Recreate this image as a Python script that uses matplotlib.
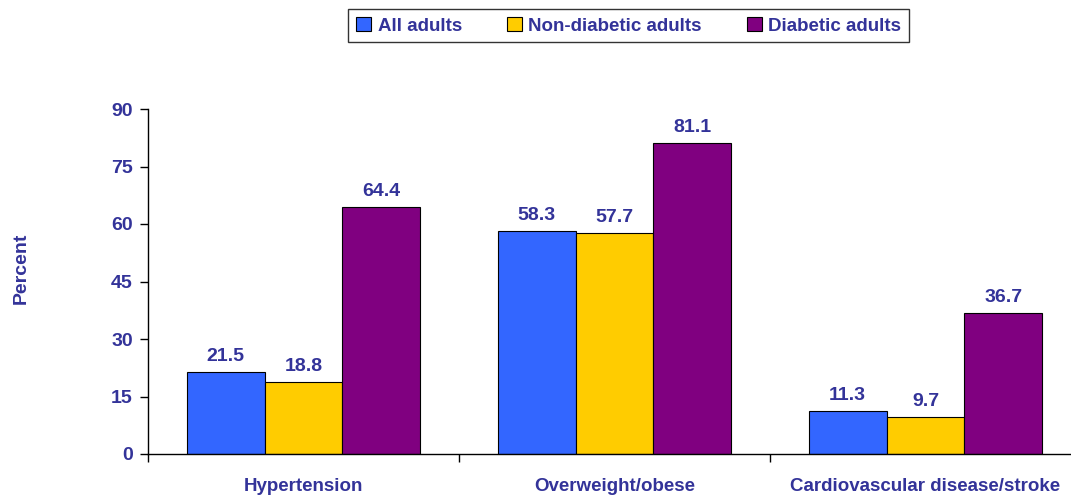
import matplotlib
matplotlib.use("Agg")
import matplotlib.pyplot as plt
import numpy as np
from matplotlib.patches import Patch

categories = ["Hypertension", "Overweight/obese", "Cardiovascular disease/stroke"]
series = ["All adults", "Non-diabetic adults", "Diabetic adults"]
all_adults = [21.5, 58.3, 11.3]
non_diabetic = [18.8, 57.7, 9.7]
diabetic = [64.4, 81.1, 36.7]
colors = ["#3366FF", "#FFCC00", "#800080"]
yticks = [0, 15, 30, 45, 60, 75, 90]

navy = "#333399"
plt.rcParams["font.family"] = ["Liberation Sans", "DejaVu Sans"]
plt.rcParams["font.weight"] = "bold"

fig = plt.figure(figsize=(10.71, 5), dpi=100)
ax = fig.add_axes([0.1382, 0.092, 0.8711, 0.69])

x = np.arange(len(categories))
w = 0.25
for i, (vals, c) in enumerate(zip([all_adults, non_diabetic, diabetic], colors)):
    bars = ax.bar(x + (i - 1) * w, vals, w, color=c, edgecolor="black", linewidth=0.8)
    for b, v in zip(bars, vals):
        ax.annotate(f"{v:.1f}", (b.get_x() + b.get_width() / 2, v),
                    xytext=(0, 5), textcoords="offset points",
                    ha="center", va="bottom", color=navy,
                    fontsize=14, fontweight="bold")

ax.set_xlim(-0.5, 2.5)
ax.set_ylim(0, 90)
ax.set_yticks(yticks)
ax.set_yticklabels([str(t) for t in yticks], color=navy, fontsize=14, fontweight="bold")
ax.tick_params(axis="y", direction="out", length=6, width=1, pad=5)

# category boundaries get the ticks, labels sit at the centres
ax.set_xticks([-0.5, 0.5, 1.5, 2.5])
ax.set_xticklabels([])
ax.set_xticks(x, minor=True)
ax.set_xticklabels(categories, minor=True, color=navy, fontsize=13.5, fontweight="bold")
ax.tick_params(axis="x", which="major", direction="out", length=6, width=1)
ax.tick_params(axis="x", which="minor", length=0, pad=17)

for s in ["top", "right"]:
    ax.spines[s].set_visible(False)
ax.spines["left"].set_linewidth(1)
ax.spines["bottom"].set_linewidth(1)

fig.text(0.02, 0.464, "Percent", rotation=90, ha="center", va="center",
         color=navy, fontsize=14, fontweight="bold")

handles = [Patch(facecolor=c, edgecolor="black", linewidth=0.8) for c in colors]
leg = fig.legend(handles, series, loc="upper center", bbox_to_anchor=(0.587, 1.0),
                 ncol=3, frameon=True, fancybox=False, edgecolor="black",
                 handlelength=0.8, handleheight=0.8, handletextpad=0.35,
                 columnspacing=2.4, borderpad=0.4,
                 prop={"weight": "bold", "size": 13.5})
leg.get_frame().set_linewidth(1)
for t in leg.get_texts():
    t.set_color(navy)

fig.savefig("out.png", dpi=100)
